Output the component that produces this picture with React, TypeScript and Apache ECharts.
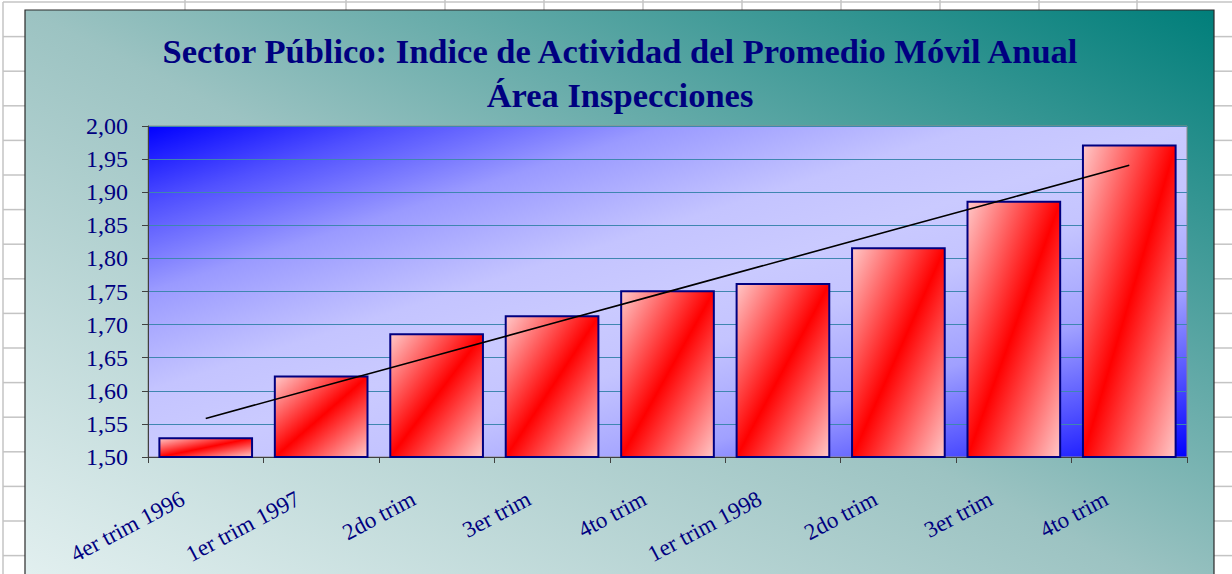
import React, { useEffect, useRef } from 'react';
import * as echarts from 'echarts';

// ---- data ----
const categories = [
  '4er trim 1996',
  '1er trim 1997',
  '2do trim',
  '3er trim',
  '4to trim',
  '1er trim 1998',
  '2do trim',
  '3er trim',
  '4to trim',
];
const indexValues = [1.53, 1.623, 1.687, 1.714, 1.752, 1.763, 1.817, 1.887, 1.972];
const yMin = 1.5;
const yMax = 2.0;
const yStep = 0.05;
const titleLine1 = 'Sector Público: Indice de Actividad del Promedio Móvil Anual';
const titleLine2 = 'Área Inspecciones';

// linear trend (least squares) of the bar values
function linearTrend(values: number[]): number[] {
  const n = values.length;
  const xs = values.map((_, i) => i + 1);
  const mx = xs.reduce((a, b) => a + b, 0) / n;
  const my = values.reduce((a, b) => a + b, 0) / n;
  let sxy = 0;
  let sxx = 0;
  for (let i = 0; i < n; i++) {
    sxy += (xs[i] - mx) * (values[i] - my);
    sxx += (xs[i] - mx) * (xs[i] - mx);
  }
  const slope = sxy / sxx;
  const intercept = my - slope * mx;
  return xs.map((x) => intercept + slope * x);
}

const SERIF = "'Liberation Serif', 'Times New Roman', serif";
const NAVY = '#000080';

// spreadsheet decoration (background cells)
const rowLinesY = Array.from({ length: 17 }, (_, k) => 2 + 34.6 * k);
const colLinesX = [185, 346, 445, 544, 643, 742, 841, 940, 1039, 1137];

function buildGraphics() {
  const cellStroke = { stroke: '#c4c4c4', lineWidth: 1.5 };
  const els: any[] = [];
  els.push({ type: 'rect', z: -20, silent: true, shape: { x: 0, y: 0, width: 1232, height: 574 }, style: { fill: '#ffffff' } });
  els.push({ type: 'line', z: -19, silent: true, shape: { x1: 3, y1: 2, x2: 1232, y2: 2 }, style: cellStroke });
  els.push({ type: 'line', z: -19, silent: true, shape: { x1: 3, y1: 2, x2: 3, y2: 574 }, style: cellStroke });
  rowLinesY.slice(1).forEach((y) => {
    els.push({ type: 'line', z: -19, silent: true, shape: { x1: 3, y1: y, x2: 25, y2: y }, style: cellStroke });
    els.push({ type: 'line', z: -19, silent: true, shape: { x1: 1214, y1: y, x2: 1232, y2: y }, style: cellStroke });
  });
  colLinesX.forEach((x) => {
    els.push({ type: 'line', z: -19, silent: true, shape: { x1: x, y1: 0, x2: x, y2: 10 }, style: cellStroke });
  });
  // chart area
  els.push({
    type: 'rect',
    z: -10,
    silent: true,
    shape: { x: 25, y: 10, width: 1189, height: 600 },
    style: {
      fill: {
        type: 'linear',
        x: 0,
        y: 1,
        x2: 1,
        y2: 0,
        colorStops: [
          { offset: 0, color: '#e6f2f2' },
          { offset: 0.5, color: '#9cc3c2' },
          { offset: 1, color: '#007e7a' },
        ],
      },
      stroke: '#2a2a2a',
      lineWidth: 1.2,
    },
  });
  return els;
}

export default function App() {
  const ref = useRef<HTMLDivElement>(null);

  useEffect(() => {
    if (!ref.current) return;
    const chart = echarts.init(ref.current, undefined, { renderer: 'svg' });
    const trend = linearTrend(indexValues);

    chart.setOption({
      animation: false,
      backgroundColor: 'transparent',
      title: [
        {
          text: titleLine1,
          left: 620,
          top: 31,
          padding: 0,
          textAlign: 'center',
          textStyle: { color: NAVY, fontFamily: SERIF, fontWeight: 'bold', fontSize: 34.5, lineHeight: 40 },
        },
        {
          text: titleLine2,
          left: 620,
          top: 75,
          padding: 0,
          textAlign: 'center',
          textStyle: { color: NAVY, fontFamily: SERIF, fontWeight: 'bold', fontSize: 34.5, lineHeight: 40 },
        },
      ],
      graphic: buildGraphics(),
      grid: {
        left: 148,
        right: 45,
        top: 126,
        bottom: 117,
        show: true,
        borderColor: '#8c8c8c',
        borderWidth: 1,
        backgroundColor: {
          type: 'linear',
          x: 0,
          y: 0,
          x2: 1,
          y2: 1,
          colorStops: [
            { offset: 0, color: '#0000ff' },
            { offset: 0.12, color: '#5050ff' },
            { offset: 0.25, color: '#9a9aff' },
            { offset: 0.4, color: '#c4c4ff' },
            { offset: 0.5, color: '#cacaff' },
            { offset: 0.6, color: '#c4c4ff' },
            { offset: 0.75, color: '#a0a0ff' },
            { offset: 0.88, color: '#5050ff' },
            { offset: 1, color: '#0000ff' },
          ],
        },
      },
      xAxis: {
        type: 'category',
        data: categories,
        boundaryGap: true,
        axisLine: { show: true, lineStyle: { color: '#404040', width: 1 } },
        axisTick: { show: true, length: 6, lineStyle: { color: '#404040' } },
        axisLabel: {
          interval: 0,
          rotate: 28,
          margin: 28,
          padding: [0, 26, 0, 0],
          color: NAVY,
          fontFamily: SERIF,
          fontSize: 23,
        },
        splitLine: { show: false },
      },
      yAxis: {
        type: 'value',
        min: yMin,
        max: yMax,
        interval: yStep,
        axisLine: { show: true, lineStyle: { color: '#404040', width: 1 } },
        axisTick: { show: true, length: 6, lineStyle: { color: '#404040' } },
        axisLabel: {
          margin: 20,
          color: NAVY,
          fontFamily: SERIF,
          fontSize: 24,
          formatter: (v: number) => v.toFixed(2).replace('.', ','),
        },
        splitLine: { show: true, lineStyle: { color: '#3f86b0', width: 1 } },
      },
      series: [
        {
          type: 'bar',
          data: indexValues,
          barCategoryGap: '18%',
          itemStyle: {
            borderColor: '#000080',
            borderWidth: 2,
            color: {
              type: 'linear',
              x: 0,
              y: 0,
              x2: 1,
              y2: 1,
              colorStops: [
                { offset: 0, color: '#ffc8c8' },
                { offset: 0.5, color: '#ff0000' },
                { offset: 1, color: '#ffc8c8' },
              ],
            },
          },
          z: 2,
        },
        {
          type: 'line',
          data: trend,
          symbol: 'none',
          lineStyle: { color: '#000000', width: 1.6 },
          z: 3,
        },
      ],
    });

    return () => chart.dispose();
  }, []);

  return (
    <div
      ref={ref}
      style={{ position: 'absolute', left: 0, top: 0, width: 1232, height: 574 }}
    />
  );
}
